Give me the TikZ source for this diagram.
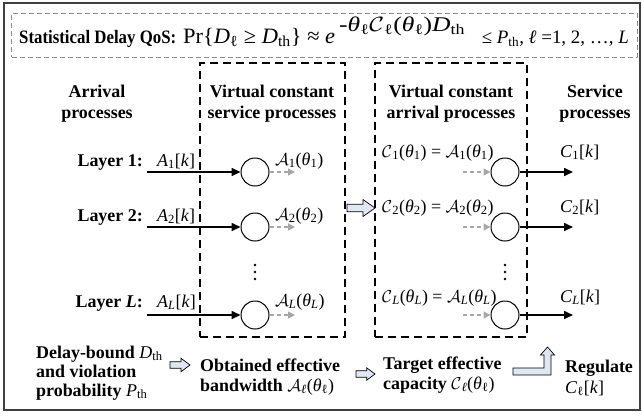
\documentclass[tikz,border=0pt]{standalone}
\usepackage{graphicx}
\usepackage{fontspec}
\setmainfont{Liberation Serif}
\usetikzlibrary{arrows.meta}

\definecolor{frameline}{HTML}{404040}
\definecolor{lightline}{HTML}{8C8C8C}
\definecolor{virtflow}{HTML}{A6A6A6}
\definecolor{arrowfill}{HTML}{DEE7F2}

% italic variable with optional subscript
\newcommand{\iv}[2]{\textit{#1}\textsubscript{#2}}
\newcommand{\ca}[1]{$\mathcal{A}$\textsubscript{#1}}
\newcommand{\cc}[1]{$\mathcal{C}$\textsubscript{#1}}
\newcommand{\thl}[1]{(\textit{θ}\textsubscript{#1})}
% set a text to a given width, keeping its height
\newcommand{\fitw}[2]{\resizebox{#1}{\height}{#2}}

\begin{document}
\begin{tikzpicture}[x=1bp, y=-1bp,
  lbl/.style={font=\fontsize{18}{21}\selectfont\bfseries, inner sep=0pt},
  var/.style={font=\fontsize{18}{21}\selectfont, inner sep=0pt},
  queue/.style={circle, draw, line width=1pt, minimum size=28bp, inner sep=0pt},
  flow/.style={line width=1.6pt, -{Triangle[length=9bp,width=8bp]}},
  vflow/.style={draw=virtflow, dash pattern=on 4bp off 3bp, line width=1.3pt,
                -{Triangle[length=7bp,width=7bp]}},
  groupbox/.style={draw, dash pattern=on 8bp off 5bp, line width=1.1pt, inner sep=0pt},
  blockarrow/.style={draw, fill=arrowfill, line width=0.7pt, line join=miter},
  dot/.style={circle, fill, inner sep=0pt, minimum size=2.6bp}
]
\useasboundingbox (0,0) rectangle (642,415);

% outer frame
\node[draw=frameline, line width=1.6bp, minimum width=636bp, minimum height=407bp,
      inner sep=0pt] (frame) at (322,206.5) {};

% QoS requirement
\node[draw=lightline, dash pattern=on 5bp off 3bp, line width=1pt,
      minimum width=625bp, minimum height=44bp, inner sep=0pt] (qosbox) at (324.5,35) {};
\node[inner sep=0pt, anchor=base west, font=\fontsize{19}{19}\selectfont\bfseries]
  (qoslbl) at (19,43) {\fitw{157bp}{Statistical Delay QoS:}};
\node[inner sep=0pt, anchor=base west, font=\fontsize{22}{22}\selectfont]
  (qosprob) at (183,43) {\fitw{152bp}{Pr\{\iv{D}{ℓ} ≥ \iv{D}{th}\} ≈ \textit{e}}};
\node[inner sep=0pt, anchor=base west, font=\fontsize{21}{21}\selectfont]
  (qosexp) at (339,31) {\fitw{126bp}{-\iv{θ}{ℓ}\cc{ℓ}\thl{ℓ}\iv{D}{th}}};
\node[inner sep=0pt, anchor=base east, font=\fontsize{19}{19}\selectfont]
  (qosbound) at (629,43) {≤ \iv{P}{th}, \textit{ℓ} =1, 2, …, \textit{L}};

% grouping boxes
\node[groupbox, minimum width=145bp, minimum height=274bp] (svcbox) at (272.5,200) {};
\node[groupbox, minimum width=152bp, minimum height=274bp] (arrbox) at (451,200) {};

% column headers
\node[lbl, anchor=base] (h1a) at (97,97) {Arrival};
\node[lbl, anchor=base] (h1b) at (97,118) {processes};
\node[lbl, anchor=base] (h2a) at (272,97) {Virtual constant};
\node[lbl, anchor=base] (h2b) at (272,118) {service processes};
\node[lbl, anchor=base] (h3a) at (451,97) {Virtual constant};
\node[lbl, anchor=base] (h3b) at (451,118) {arrival processes};
\node[lbl, anchor=base] (h4a) at (595,97) {Service};
\node[lbl, anchor=base] (h4b) at (595,118) {processes};

% queues
\node[queue] (a1) at (255,172) {};
\node[queue] (a2) at (255,227) {};
\node[queue] (aL) at (255,315) {};
\node[queue] (b1) at (505,172) {};
\node[queue] (b2) at (505,227) {};
\node[queue] (bL) at (505,315) {};

% vertical ellipses
\node[dot] (da1) at (255,265) {};
\node[dot] (da2) at (255,272) {};
\node[dot] (da3) at (255,279) {};
\node[dot] (db1) at (505,265) {};
\node[dot] (db2) at (505,272) {};
\node[dot] (db3) at (505,279) {};

% flow end points
\coordinate (s1) at (147,172);
\coordinate (s2) at (147,227);
\coordinate (sL) at (147,315);
\coordinate (o1) at (295,172);
\coordinate (o2) at (295,227);
\coordinate (oL) at (295,315);
\coordinate (i1) at (463,172);
\coordinate (i2) at (463,227);
\coordinate (iL) at (463,315);
\coordinate (e1) at (573,172);
\coordinate (e2) at (573,227);
\coordinate (eL) at (573,315);

\draw[flow] (s1) -- (a1);
\draw[flow] (s2) -- (a2);
\draw[flow] (sL) -- (aL);
\draw[vflow] (a1) -- (o1);
\draw[vflow] (a2) -- (o2);
\draw[vflow] (aL) -- (oL);
\draw[vflow] (i1) -- (b1);
\draw[vflow] (i2) -- (b2);
\draw[vflow] (iL) -- (bL);
\draw[flow] (b1) -- (e1);
\draw[flow] (b2) -- (e2);
\draw[flow] (bL) -- (eL);

% layer labels
\node[lbl, anchor=base east] (l1) at (143,166) {Layer 1:};
\node[lbl, anchor=base east] (l2) at (143,221) {Layer 2:};
\node[lbl, anchor=base east] (lL) at (143,307) {Layer \textit{L}:};
\node[var, anchor=base west] (ak1) at (157,166) {\iv{A}{1}[\textit{k}]};
\node[var, anchor=base west] (ak2) at (157,221) {\iv{A}{2}[\textit{k}]};
\node[var, anchor=base west] (akL) at (157,307) {\iv{A}{\textit{L}}[\textit{k}]};

% effective bandwidths
\node[var, anchor=base west] (eb1) at (275,165) {\ca{1}\thl{1}};
\node[var, anchor=base west] (eb2) at (275,220) {\ca{2}\thl{2}};
\node[var, anchor=base west] (ebL) at (275,306) {\ca{\textit{L}}\thl{\textit{L}}};

% effective capacities
\node[var, anchor=base west] (ec1) at (382,157) {\cc{1}\thl{1} = \ca{1}\thl{1}};
\node[var, anchor=base west] (ec2) at (382,212) {\cc{2}\thl{2} = \ca{2}\thl{2}};
\node[var, anchor=base west] (ecL) at (382,302) {\cc{\textit{L}}\thl{\textit{L}} = \ca{\textit{L}}\thl{\textit{L}}};

% service processes
\node[var, anchor=base west] (ck1) at (560,157) {\iv{C}{1}[\textit{k}]};
\node[var, anchor=base west] (ck2) at (560,212) {\iv{C}{2}[\textit{k}]};
\node[var, anchor=base west] (ckL) at (560,302) {\iv{C}{\textit{L}}[\textit{k}]};

% transfer between the two virtual stages
\draw[blockarrow] (347,204.3) -- (363,204.3) -- (363,199.5) -- (375,208)
  -- (363,216.5) -- (363,211.7) -- (347,211.7) -- cycle;

% design procedure
\node[lbl, anchor=base west] (p1a) at (36,358) {Delay-bound {\mdseries\iv{D}{th}}};
\node[lbl, anchor=base west] (p1b) at (36,377) {and violation};
\node[lbl, anchor=base west] (p1c) at (36,396) {probability {\mdseries\iv{P}{th}}};
\node[lbl, anchor=base west] (p2a) at (200,371) {Obtained effective};
\node[lbl, anchor=base west] (p2b) at (200,391) {bandwidth {\mdseries\ca{\textit{ℓ}}\thl{ℓ}}};
\node[lbl, anchor=base west] (p3a) at (383,369) {Target effective};
\node[lbl, anchor=base west] (p3b) at (383,389) {capacity {\mdseries\cc{\textit{ℓ}}\thl{ℓ}}};
\node[lbl, anchor=base west] (p4a) at (565,372) {Regulate};
\node[var, anchor=base west] (p4b) at (565,393) {\iv{C}{ℓ}[\textit{k}]};

\draw[blockarrow] (170,361.7) -- (181,361.7) -- (181,358.3) -- (190,365)
  -- (181,371.7) -- (181,368.3) -- (170,368.3) -- cycle;
\draw[blockarrow] (356,370.7) -- (366.7,370.7) -- (366.7,367.8) -- (375,374)
  -- (366.7,380.2) -- (366.7,377.3) -- (356,377.3) -- cycle;
\draw[blockarrow] (513,368) -- (544,368) -- (544,355) -- (540.5,355) -- (547.5,347)
  -- (554.5,355) -- (551,355) -- (551,375) -- (513,375) -- cycle;
\end{tikzpicture}
\end{document}
